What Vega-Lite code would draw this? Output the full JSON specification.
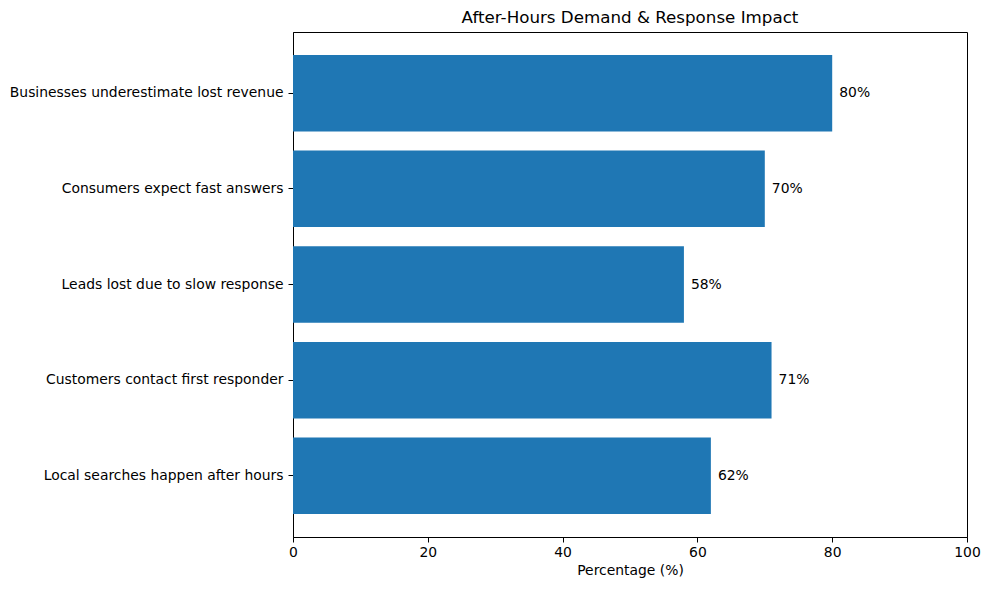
{
  "$schema": "https://vega.github.io/schema/vega-lite/v6.json",
  "description": "After-Hours Demand & Response Impact",
  "autosize": {"type": "none"},
  "width": 674,
  "height": 505,
  "padding": {"left": 293, "top": 32, "right": 22, "bottom": 53},
  "background": "white",
  "title": {
    "text": "After-Hours Demand & Response Impact",
    "font": "DejaVu Sans",
    "fontSize": 16.7,
    "fontWeight": "normal",
    "color": "black",
    "offset": 5
  },
  "config": {
    "view": {"stroke": "black", "strokeWidth": 1},
    "axis": {
      "labelFont": "DejaVu Sans",
      "titleFont": "DejaVu Sans",
      "labelFontSize": 13.9,
      "titleFontSize": 13.9,
      "titleFontWeight": "normal",
      "labelColor": "black",
      "titleColor": "black",
      "domainColor": "black",
      "tickColor": "black",
      "tickSize": 5,
      "labelFlush": false,
      "grid": false
    }
  },
  "data": {
    "values": [
      {"label": "Businesses underestimate lost revenue", "pct": 80},
      {"label": "Consumers expect fast answers", "pct": 70},
      {"label": "Leads lost due to slow response", "pct": 58},
      {"label": "Customers contact first responder", "pct": 71},
      {"label": "Local searches happen after hours", "pct": 62}
    ]
  },
  "encoding": {
    "y": {
      "field": "label",
      "type": "nominal",
      "sort": null,
      "scale": {"paddingInner": 0.2, "paddingOuter": 0.24},
      "axis": {"title": null, "labelPadding": 5, "labelLimit": 400}
    },
    "x": {
      "field": "pct",
      "type": "quantitative",
      "scale": {"domain": [0, 100], "nice": false},
      "axis": {"title": "Percentage (%)", "values": [0, 20, 40, 60, 80, 100], "labelPadding": 3, "titlePadding": 5}
    }
  },
  "layer": [
    {"mark": {"type": "bar", "color": "#1f77b4"}},
    {
      "transform": [{"calculate": "datum.pct + '%'", "as": "pct_label"}],
      "mark": {"type": "text", "align": "left", "baseline": "middle", "dx": 7, "font": "DejaVu Sans", "fontSize": 13.9, "color": "black"},
      "encoding": {"text": {"field": "pct_label", "type": "nominal"}}
    }
  ]
}
